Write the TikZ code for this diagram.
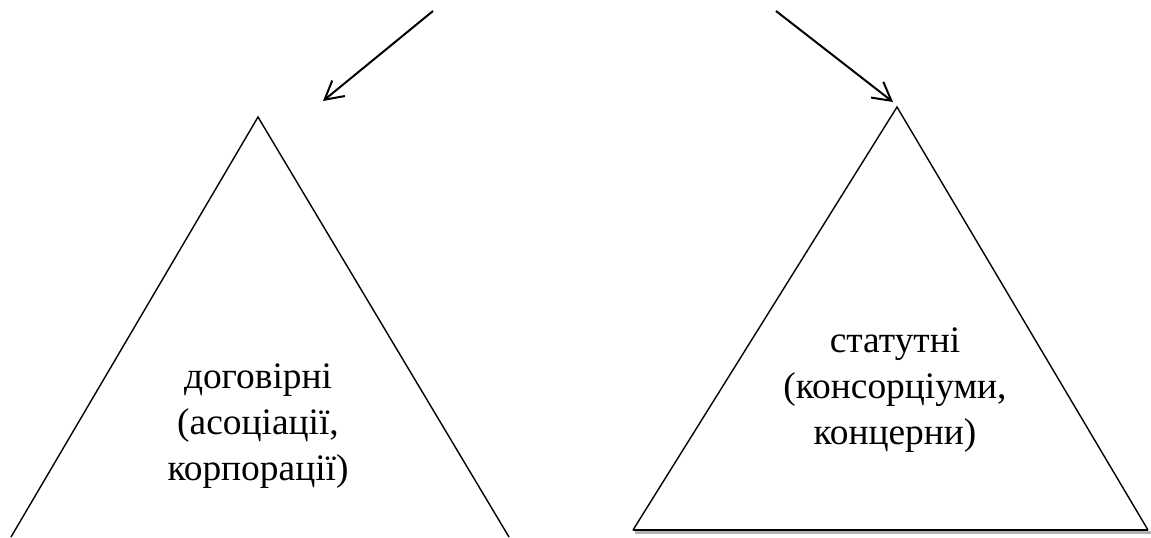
\documentclass[tikz,border=0pt]{standalone}
\usepackage{fontspec}
\setmainfont{Liberation Serif}
\usetikzlibrary{arrows.meta}

\begin{document}
\begin{tikzpicture}[x=0.5pt,y=-0.5pt,
    every node/.style={font=\fontsize{18.7}{23}\selectfont,align=center},
    side/.style={line width=0.7pt},
    link/.style={line width=1pt,-{Straight Barb[length=9pt,width=10pt]}}
   ]
  \useasboundingbox (0,0) rectangle (1151,537);
  % left pyramid, cut off by the page
  \coordinate (ltop) at (258,117);
  \draw[side] (11,537) -- (ltop) -- (509,537);
  \node (dogovirni) at (258,426) {договірні\\(асоціації,\\корпорації)};
  % right pyramid
  \coordinate (rtop) at (897,107);
  \draw[gray!60,line width=1.2pt] (635,532.5) -- (1151,532.5);
  \draw[side] (633,530) -- (rtop) -- (1148,530);
  \draw[line width=1pt] (633,530) -- (1148,530);
  \node (statutni) at (895,390) {статутні\\(консорціуми,\\концерни)};
  % arrows from the heading above the page
  \coordinate (from1) at (433,11);
  \coordinate (to1) at (323,101);
  \coordinate (from2) at (776,11);
  \coordinate (to2) at (893,102);
  \draw[link] (from1) -- (to1);
  \draw[link] (from2) -- (to2);
\end{tikzpicture}
\end{document}
